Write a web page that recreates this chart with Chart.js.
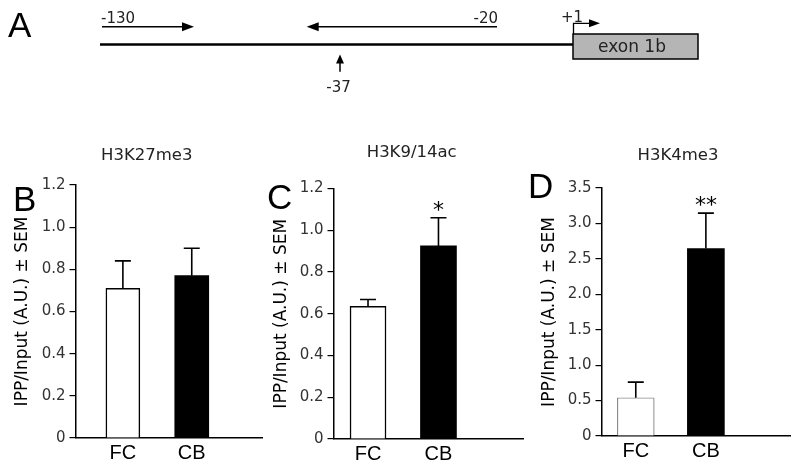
<!DOCTYPE html>
<html>
<head>
<meta charset="utf-8">
<script src="https://cdn.jsdelivr.net/npm/chart.js@4.4.0/dist/chart.umd.min.js"></script>
<style>
  html, body { margin: 0; padding: 0; background: #fff; width: 800px; height: 473px; overflow: hidden; }
  canvas { position: absolute; }
</style>
</head>
<body>
<canvas id="panelA" width="800" height="115" style="left:0px;top:0px"></canvas>
<canvas id="panelB" width="268" height="343" style="left:0px;top:130px"></canvas>
<canvas id="panelC" width="268" height="343" style="left:262px;top:130px"></canvas>
<canvas id="panelD" width="275" height="343" style="left:525px;top:130px"></canvas>
<script>
// groups on the x axis
const groups = ["FC", "CB"];
const groupPos = [1, 2];

// H3K27me3
const k27Means = [0.71, 0.77];
const k27Sem = [0.13, 0.13];
const k27Stars = ["", ""];
const k27Ticks = [0, 0.2, 0.4, 0.6, 0.8, 1.0, 1.2];

// H3K9/14ac
const k9Means = [0.635, 0.925];
const k9Sem = [0.033, 0.135];
const k9Stars = ["", "*"];
const k9Ticks = [0, 0.2, 0.4, 0.6, 0.8, 1.0, 1.2];

// H3K4me3
const k4Means = [0.54, 2.645];
const k4Sem = [0.22, 0.50];
const k4Stars = ["", "**"];
const k4Ticks = [0, 0.5, 1.0, 1.5, 2.0, 2.5, 3.0, 3.5];

// promoter sites in panel A
const geneSites = ["-130", "-37", "-20", "+1"];

const SANS = "'DejaVu Sans', Verdana, sans-serif";
const HELV = "'Liberation Sans', Arial, sans-serif";

// error bars + significance stars
const errorBars = {
  id: "errorBars",
  afterDatasetsDraw(chart) {
    const ctx = chart.ctx;
    const ys = chart.scales.y;
    const ds = chart.data.datasets[0];
    const meta = chart.getDatasetMeta(0);
    ctx.save();
    ctx.strokeStyle = "#000";
    ctx.lineWidth = 1.6;
    ds.data.forEach((pt, i) => {
      const x = meta.data[i].x;
      const y0 = ys.getPixelForValue(pt.y);
      const y1 = ys.getPixelForValue(pt.y + ds.sem[i]);
      ctx.beginPath();
      ctx.moveTo(x, y0);
      ctx.lineTo(x, y1);
      ctx.moveTo(x - 8, y1);
      ctx.lineTo(x + 8, y1);
      ctx.stroke();
      if (ds.stars[i]) {
        ctx.fillStyle = "#000";
        ctx.font = "22px " + SANS;
        ctx.textAlign = "center";
        ctx.textBaseline = "alphabetic";
        ctx.fillText(ds.stars[i], x, y1 - 1);
      }
    });
    ctx.restore();
  }
};

// panel letter and title
const panelText = {
  id: "panelText",
  afterDraw(chart, args, o) {
    const ctx = chart.ctx;
    ctx.save();
    ctx.fillStyle = "#000";
    ctx.font = "35px " + HELV;
    ctx.textAlign = "left";
    ctx.textBaseline = "alphabetic";
    ctx.fillText(o.letter, o.lx, o.ly);
    ctx.fillStyle = "#222";
    ctx.font = "16.5px " + SANS;
    ctx.textAlign = "center";
    ctx.textBaseline = "middle";
    ctx.fillText(o.title, o.tx, o.ty);
    ctx.restore();
  }
};

function makePanel(id, means, sem, stars, ticks, cfg) {
  return new Chart(document.getElementById(id), {
    type: "bar",
    data: {
      datasets: [{
        data: groupPos.map((x, i) => ({ x: x, y: means[i] })),
        sem: sem,
        stars: stars,
        backgroundColor: ["#fff", "#000"],
        borderColor: [cfg.fcBorder, "#000"],
        borderWidth: [cfg.fcBorderWidth, 0],
        barThickness: cfg.barW
      }]
    },
    options: {
      responsive: false,
      animation: false,
      devicePixelRatio: 1,
      layout: { padding: { top: cfg.top, right: cfg.right, left: 0, bottom: 0 } },
      plugins: {
        legend: { display: false },
        tooltip: { enabled: false },
        panelText: cfg.text
      },
      scales: {
        x: {
          type: "linear",
          min: cfg.xMin,
          max: cfg.xMax,
          offset: false,
          grid: { display: false, drawTicks: false },
          border: { color: "#000", width: 1.5 },
          afterBuildTicks: (s) => { s.ticks = groupPos.map((v) => ({ value: v })); },
          ticks: {
            autoSkip: false,
            maxRotation: 0,
            padding: 3,
            color: "#000",
            font: { family: HELV, size: 20 },
            callback: (v) => groups[groupPos.indexOf(v)]
          },
          afterFit: (s) => { s.height = cfg.xh; }
        },
        y: {
          min: 0,
          max: ticks[ticks.length - 1],
          afterBuildTicks: (s) => { s.ticks = ticks.map((v) => ({ value: v })); },
          grid: { drawOnChartArea: false, tickLength: 6, color: "#000", lineWidth: 1.2 },
          border: { color: "#000", width: 1.5 },
          ticks: {
            padding: 4,
            color: "#333",
            font: { family: SANS, size: 15 },
            callback: (v) => (v === 0 ? "0" : v.toFixed(1))
          },
          title: {
            display: true,
            text: "IPP/Input (A.U.) ± SEM",
            color: "#000",
            font: { family: SANS, size: 17 },
            padding: { top: cfg.titlePad, bottom: 0 }
          },
          afterFit: (s) => { s.width = cfg.yw; }
        }
      }
    },
    plugins: [errorBars, panelText]
  });
}

makePanel("panelB", k27Means, k27Sem, k27Stars, k27Ticks, {
  top: 55, right: 6, yw: 75.5, xh: 35, xMin: 0.312, xMax: 3.02, barW: 34,
  fcBorder: "#000", fcBorderWidth: 1.5, titlePad: 12.8,
  text: { letter: "B", lx: 13, ly: 81, title: "H3K27me3", tx: 146.7, ty: 26 }
});

makePanel("panelC", k9Means, k9Sem, k9Stars, k9Ticks, {
  top: 58.5, right: 7, yw: 71.5, xh: 34, xMin: 0.51, xMax: 3.2, barW: 36,
  fcBorder: "#000", fcBorderWidth: 1.5, titlePad: 9.8,
  text: { letter: "C", lx: 5, ly: 79, title: "H3K9/14ac", tx: 149.7, ty: 23 }
});

makePanel("panelD", k4Means, k4Sem, k4Stars, k4Ticks, {
  top: 58, right: 10, yw: 76.5, xh: 37, xMin: 0.511, xMax: 3.2, barW: 37,
  fcBorder: "#8a8a8a", fcBorderWidth: 1.2, titlePad: 14.8,
  text: { letter: "D", lx: 3, ly: 68, title: "H3K4me3", tx: 153, ty: 26 }
});

// panel A: schematic of the promoter region
const geneMap = {
  id: "geneMap",
  afterDraw(chart) {
    const ctx = chart.ctx;
    const X = (v) => chart.scales.x.getPixelForValue(v);
    const Y = (v) => chart.scales.y.getPixelForValue(v);

    function hArrow(x1, x2, y) {
      const dir = x2 > x1 ? 1 : -1;
      ctx.lineWidth = 1.5;
      ctx.beginPath();
      ctx.moveTo(X(x1), Y(y));
      ctx.lineTo(X(x2 - dir * 10), Y(y));
      ctx.stroke();
      ctx.beginPath();
      ctx.moveTo(X(x2), Y(y));
      ctx.lineTo(X(x2 - dir * 12), Y(y - 4.5));
      ctx.lineTo(X(x2 - dir * 12), Y(y + 4.5));
      ctx.closePath();
      ctx.fill();
    }

    ctx.save();
    ctx.strokeStyle = "#000";
    ctx.fillStyle = "#000";

    // promoter line
    ctx.lineWidth = 2.5;
    ctx.beginPath();
    ctx.moveTo(X(100), Y(44.5));
    ctx.lineTo(X(573), Y(44.5));
    ctx.stroke();

    // primers
    hArrow(102, 194, 26.7);
    hArrow(497, 306.7, 26.7);

    // -37 site
    ctx.lineWidth = 1.5;
    ctx.beginPath();
    ctx.moveTo(X(340), Y(71.7));
    ctx.lineTo(X(340), Y(60));
    ctx.stroke();
    ctx.beginPath();
    ctx.moveTo(X(340), Y(54.5));
    ctx.lineTo(X(336), Y(63.5));
    ctx.lineTo(X(344), Y(63.5));
    ctx.closePath();
    ctx.fill();

    // exon box
    ctx.fillStyle = "#b5b5b5";
    ctx.fillRect(X(573), Y(34), X(698) - X(573), Y(59) - Y(34));
    ctx.lineWidth = 1.5;
    ctx.strokeRect(X(573), Y(34), X(698) - X(573), Y(59) - Y(34));
    ctx.fillStyle = "#000";

    // transcription start
    ctx.lineWidth = 1.3;
    ctx.beginPath();
    ctx.moveTo(X(573.5), Y(34));
    ctx.lineTo(X(573.5), Y(23.3));
    ctx.lineTo(X(590), Y(23.3));
    ctx.stroke();
    ctx.beginPath();
    ctx.moveTo(X(600), Y(23.3));
    ctx.lineTo(X(589), Y(19.3));
    ctx.lineTo(X(589), Y(27.3));
    ctx.closePath();
    ctx.fill();

    // labels
    ctx.fillStyle = "#222";
    ctx.font = "15px " + SANS;
    ctx.textBaseline = "alphabetic";
    ctx.textAlign = "left";
    ctx.fillText(geneSites[0], X(101), Y(23.3));
    ctx.textAlign = "center";
    ctx.fillText(geneSites[1], X(338.5), Y(92));
    ctx.textAlign = "right";
    ctx.fillText(geneSites[2], X(498), Y(23.3));
    ctx.textAlign = "left";
    ctx.fillText(geneSites[3], X(561), Y(21.7));
    ctx.font = "17px " + SANS;
    ctx.textAlign = "center";
    ctx.textBaseline = "middle";
    ctx.fillText("exon 1b", X(632), Y(47.5));

    ctx.fillStyle = "#000";
    ctx.font = "35px " + HELV;
    ctx.textAlign = "left";
    ctx.textBaseline = "alphabetic";
    ctx.fillText("A", X(8), Y(37));
    ctx.restore();
  }
};

new Chart(document.getElementById("panelA"), {
  type: "scatter",
  data: { datasets: [{ data: [] }] },
  options: {
    responsive: false,
    animation: false,
    devicePixelRatio: 1,
    layout: { padding: 0 },
    plugins: { legend: { display: false }, tooltip: { enabled: false } },
    scales: {
      x: { type: "linear", min: 0, max: 800, display: false },
      y: { type: "linear", min: 0, max: 115, reverse: true, display: false }
    }
  },
  plugins: [geneMap]
});
</script>
</body>
</html>
